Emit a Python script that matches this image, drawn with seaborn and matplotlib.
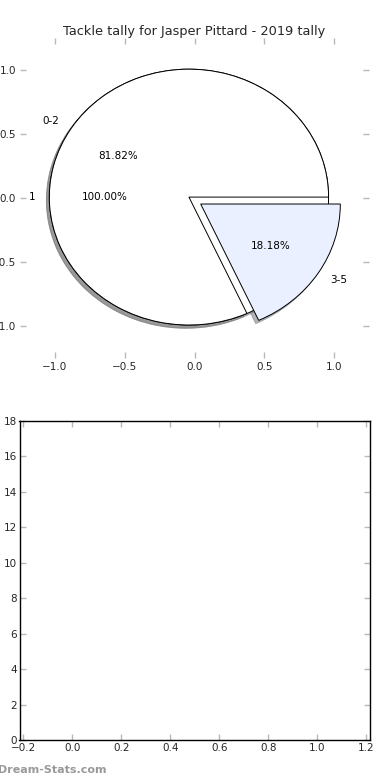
import matplotlib
matplotlib.use('Agg')
import matplotlib.pyplot as plt
import numpy as np
import seaborn as sns

# tallies
total_labels = ['1']
total_values = [11]
split_labels = ['0-2', '3-5']
split_values = [9, 2]
split_explode = [0, 0.1]
split_colors = ['white', '#eaf0ff']

title = 'Tackle tally for Jasper Pittard - 2019 tally'

sns.set_style('white')
plt.rcParams['font.family'] = ['DejaVu Sans']

fig = plt.figure(figsize=(3.9, 7.8), dpi=100)

# top panel: two pies stacked on one axes
ax1 = fig.add_axes([0.0513, 0.541, 0.895, 0.410])
wp = dict(edgecolor='black', linewidth=0.7)
tp = dict(fontsize=7.5, color='black')
shadow = dict(ox=-0.015, oy=-0.018, shade=0.5, alpha=0.55)
pie_center = (-0.04, 0.008)
ax1.pie(total_values, labels=total_labels, autopct='%1.2f%%', colors=['white'],
        shadow=shadow, wedgeprops=wp, textprops=tp, center=pie_center)
ax1.pie(split_values, labels=split_labels, explode=split_explode, autopct='%1.2f%%',
        colors=split_colors, shadow=shadow, wedgeprops=wp, textprops=tp,
        center=pie_center)
ax1.set_aspect('auto')
ax1.set_xlim(-1.25, 1.25)
ax1.set_ylim(-1.25, 1.25)
ax1.set_xticks(np.arange(-1, 1.01, 0.5))
ax1.set_yticks(np.arange(-1, 1.01, 0.5))
ax1.set_frame_on(False)
ax1.set_title(title, fontsize=9.3, pad=2.5)
ax1.tick_params(direction='in', length=4, width=1, color='#b8b8b8', labelsize=7.5,
                top=True, right=True, bottom=True, left=True, pad=3)

# bottom panel: empty axes
ax2 = fig.add_axes([0.05, 0.0513, 0.8987, 0.409])
ax2.set_xlim(-0.215, 1.215)
ax2.set_ylim(0, 18)
ax2.set_xticks(np.arange(-0.2, 1.21, 0.2))
ax2.set_yticks(np.arange(0, 19, 2))
for s in ax2.spines.values():
    s.set_color('black')
    s.set_linewidth(1)
ax2.tick_params(direction='in', length=4, width=1, color='#b8b8b8', labelsize=7.5,
                top=True, right=True, bottom=True, left=True, pad=2)

fig.text(-0.004, 0.0128, 'Dream-Stats.com', color='#999999', fontsize=8,
         fontweight='bold', va='center', ha='left')

fig.savefig('out.png', dpi=100)
